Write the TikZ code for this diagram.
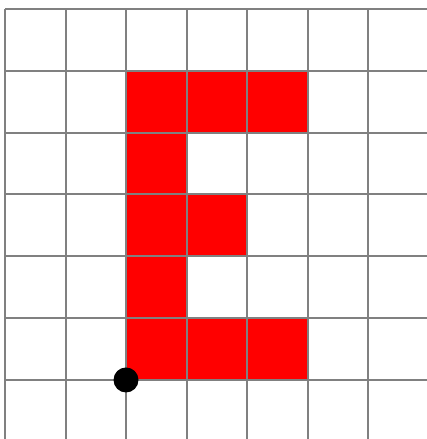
\documentclass[tikz,border=0pt]{standalone}
\begin{document}
\begin{tikzpicture}[x=1pt,y=-1pt,
  gridline/.style={draw=gray,line width=2pt},
  cellfill/.style={fill=red},
  dotmark/.style={circle,fill=black,inner sep=0pt,minimum size=25pt}]
\useasboundingbox (0,0) rectangle (427,439);
\def\cw{60.5}\def\ch{61.83}
% red cells (col,row)
\foreach \c/\r in {2/1,3/1,4/1,2/2,2/3,3/3,2/4,2/5,3/5,4/5}{
  \fill[cellfill] ({5+\c*\cw},{9+\r*\ch}) rectangle ({5+(\c+1)*\cw},{9+(\r+1)*\ch});
}
% grid
\foreach \i in {0,...,6}{
  \draw[gridline] ({5+\i*\cw},9) -- ({5+\i*\cw},439);
  \draw[gridline] (5,{9+\i*\ch}) -- (427,{9+\i*\ch});
}
\node[dotmark] (dot) at ({5+2*\cw},{9+6*\ch}) {};
\end{tikzpicture}
\end{document}
